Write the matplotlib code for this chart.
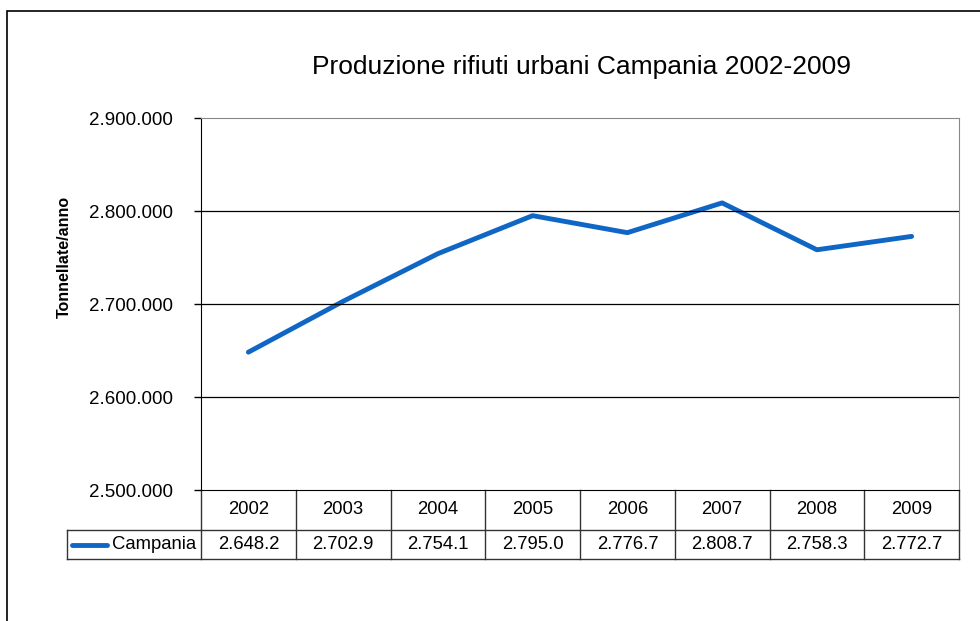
import numpy as np
import matplotlib.pyplot as plt
from matplotlib.transforms import blended_transform_factory
from matplotlib.patches import Rectangle

plt.rcParams['font.family'] = ['Liberation Sans', 'DejaVu Sans']

# dati (tonnellate/anno)
anni = ['2002', '2003', '2004', '2005', '2006', '2007', '2008', '2009']
campania = [2648200, 2702900, 2754100, 2795000, 2776700, 2808700, 2758300, 2772700]
etichette = ['2.648.2', '2.702.9', '2.754.1', '2.795.0', '2.776.7', '2.808.7', '2.758.3', '2.772.7']
y_ticks = [2500000, 2600000, 2700000, 2800000, 2900000]
y_labels = ['2.500.000', '2.600.000', '2.700.000', '2.800.000', '2.900.000']

W, H = 980, 621
fig = plt.figure(figsize=(W / 100, H / 100), dpi=100)

# cornice esterna (aperta a destra e in basso)
fig.patches.append(Rectangle((7 / W, -0.1), 1.2, 1 - 11 / H + 0.1, transform=fig.transFigure,
                             fill=False, edgecolor='black', lw=1.2))

left, right, top, bottom = 201, 959, 118, 490
ax = fig.add_axes([left / W, 1 - bottom / H, (right - left) / W, (bottom - top) / H])

x = np.arange(len(anni))
ax.plot(x, campania, color='#0F66C4', lw=3.5, solid_capstyle='round', solid_joinstyle='round')

ax.set_xlim(-0.5, len(anni) - 0.5)
ax.set_ylim(y_ticks[0], y_ticks[-1])
ax.set_yticks(y_ticks)
ax.set_yticklabels(y_labels, fontsize=13.5)
ax.tick_params(axis='y', length=5, width=1, pad=15)
ax.set_xticks([])
for v in y_ticks[1:-1]:
    ax.axhline(v, color='black', lw=0.9)
ax.spines['left'].set_color('black')
ax.spines['bottom'].set_color('black')
ax.spines['top'].set_color('#888888')
ax.spines['right'].set_color('#888888')

fig.text(64 / W, 1 - 257 / H, 'Tonnellate/anno', rotation=90, ha='center', va='center',
         fontsize=11.5, fontweight='bold')

fig.text(581 / W, 1 - 67 / H, 'Produzione rifiuti urbani Campania 2002-2009',
         ha='center', va='center', fontsize=19)

# tabella dati sotto il grafico
tr = blended_transform_factory(ax.transData, ax.transAxes)
h = bottom - top
r1 = -(530 - bottom) / h
r2 = -(559 - bottom) / h
leg_x = (67 - left) / ((right - left) / len(anni)) - 0.5
lc = dict(color='#333333', lw=1, transform=tr, clip_on=False)
ax.plot([-0.5, 7.5], [r1, r1], **lc)
ax.plot([leg_x, 7.5], [r2, r2], **lc)
ax.plot([leg_x, -0.5], [r1, r1], **lc)
ax.plot([leg_x, leg_x], [r1, r2], **lc)
for i in range(len(anni) + 1):
    ax.plot([i - 0.5, i - 0.5], [0, r2], **lc)
for i, (a, e) in enumerate(zip(anni, etichette)):
    ax.text(i, r1 / 2, a, transform=tr, ha='center', va='center', fontsize=13.3)
    ax.text(i, (r1 + r2) / 2, e, transform=tr, ha='center', va='center', fontsize=13.3)
ax.plot([leg_x + 0.05, leg_x + 0.42], [(r1 + r2) / 2] * 2, color='#0F66C4', lw=3.5,
        solid_capstyle='round', transform=tr, clip_on=False)
ax.text(leg_x + 0.47, (r1 + r2) / 2, 'Campania', transform=tr, ha='left', va='center', fontsize=13.3)

fig.savefig('out.png', dpi=100)
